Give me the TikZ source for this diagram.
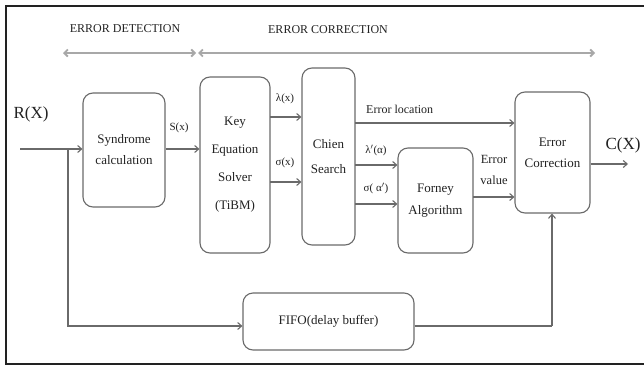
\documentclass[tikz,border=0pt]{standalone}
\usepackage{fontspec}
\setmainfont{Liberation Serif}
\usetikzlibrary{arrows.meta}
\definecolor{lc}{HTML}{6A6A6A}
\definecolor{dc}{HTML}{A8A8A8}
\definecolor{tc}{HTML}{222222}
\begin{document}
\begin{tikzpicture}[x=1pt,y=-1pt,
  box/.style={draw=lc, line width=1.1pt, rounded corners=10pt, inner sep=0pt, align=center, text=tc, font=\fontsize{13}{21}\selectfont},
  conn/.style={draw=lc, line width=1.1pt, -{Straight Barb[length=4pt,width=7pt]}},
  plain/.style={draw=lc, line width=1.1pt},
  span/.style={draw=dc, line width=1.8pt, {Straight Barb[length=3.5pt,width=7pt]}-{Straight Barb[length=3.5pt,width=7pt]}},
  lbl/.style={text=tc, inner sep=0pt, font=\fontsize{11}{13}\selectfont},
  big/.style={text=tc, inner sep=0pt, font=\fontsize{17}{19}\selectfont},
  head/.style={text=tc, inner sep=0pt, font=\fontsize{12}{14}\selectfont}]
\useasboundingbox (0,0) rectangle (644,367);
\fill[white] (0,0) rectangle (644,367);
% frame
\draw[line width=2.6pt, color=tc] (646,6) -- (6,6) -- (6,364) -- (646,364);
% headings
\node[head] (hdet) at (125,29) {ERROR DETECTION};
\node[head] (hcor) at (328,30) {ERROR CORRECTION};
\coordinate (d1) at (63,53);
\coordinate (d2) at (196,53);
\coordinate (c1) at (198,53);
\coordinate (c2) at (595,53);
\draw[span] (d1) -- (d2);
\draw[span] (c1) -- (c2);
% boxes
\node[box, minimum width=82pt, minimum height=114pt] (syn) at (124,150) {Syndrome\\calculation};
\node[box, minimum width=70pt, minimum height=176pt, font=\fontsize{13}{28}\selectfont] (kes) at (235,165) {Key\\Equation\\Solver\\(TiBM)};
\node[box, minimum width=53pt, minimum height=177pt, font=\fontsize{13}{25}\selectfont] (chien) at (328.5,156.5) {Chien\\Search};
\node[box, minimum width=75pt, minimum height=105pt, font=\fontsize{13}{22}\selectfont] (forney) at (435.5,200.5) {Forney\\Algorithm};
\node[box, minimum width=75pt, minimum height=121pt] (ec) at (552.5,152.5) {Error\\Correction};
\node[box, minimum width=171pt, minimum height=57pt] (fifo) at (328.5,321.5) {FIFO(delay buffer)};
% input
\node[big] (rx) at (31,114) {R(X)};
\coordinate (in) at (20,149);
\coordinate (tap) at (68,149);
\draw[conn] (in) -- (syn.west |- in);
% S(x)
\draw[conn] (syn.east |- in) -- (kes.west |- in);
\node[lbl] (sx) at (179,128) {S(x)};
% lambda / sigma
\coordinate (l1) at (270,117);
\coordinate (s1) at (270,182);
\draw[conn] (l1) -- (chien.west |- l1);
\draw[conn] (s1) -- (chien.west |- s1);
\node[lbl] (lx) at (285,99) {λ(x)};
\node[lbl] (sgx) at (285,163) {σ(x)};
% error location
\coordinate (el) at (355,123);
\draw[conn] (el) -- (ec.west |- el);
\node[lbl, anchor=west, font=\fontsize{12}{14}\selectfont] (elt) at (366,109) {Error location};
% to Forney
\coordinate (f1) at (355,165);
\coordinate (f2) at (355,204);
\draw[conn] (f1) -- (forney.west |- f1);
\draw[conn] (f2) -- (forney.west |- f2);
\node[lbl] (ldash) at (376,150) {λ$'$(α)};
\node[lbl] (sal) at (376,188) {σ( α$'$)};
% error value
\coordinate (ev) at (473,197);
\draw[conn] (ev) -- (ec.west |- ev);
\node[lbl, align=center, font=\fontsize{12.5}{21}\selectfont] (evt) at (494,170) {Error\\value};
% output
\coordinate (out) at (628,164);
\draw[conn] (ec.east |- out) -- (out);
\node[big] (cx) at (623,145) {C(X)};
% feedback via FIFO
\coordinate (b1) at (68,326);
\coordinate (b2) at (552,326);
\draw[conn] (tap) -- (b1) -- (b1 -| fifo.west);
\draw[plain] (b2 -| fifo.east) -- (b2);
\draw[conn] (b2) -- (b2 |- ec.south);
\end{tikzpicture}
\end{document}
